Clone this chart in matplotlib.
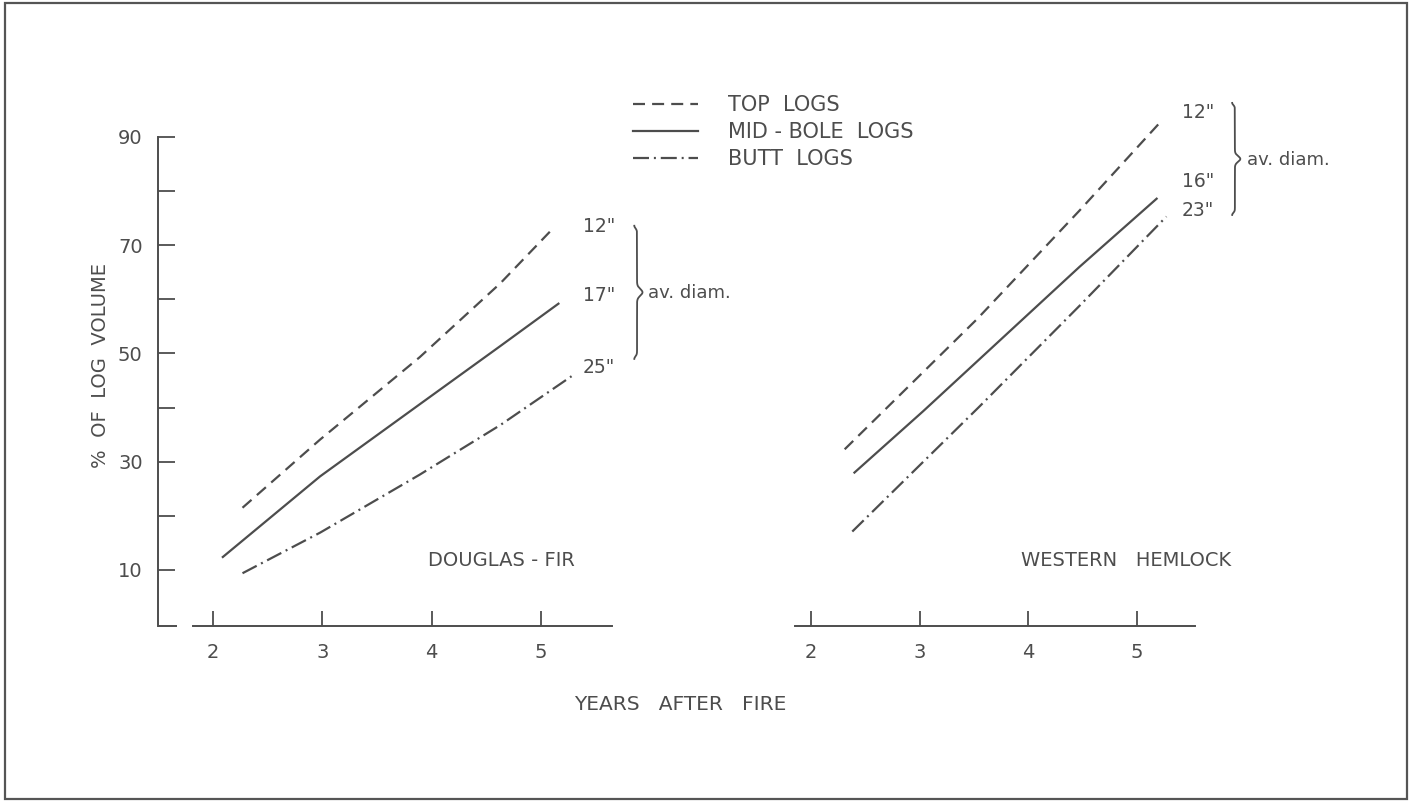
import numpy as np
import matplotlib
matplotlib.use("Agg")
import matplotlib.pyplot as plt
from matplotlib.lines import Line2D
from matplotlib.patches import Rectangle

# values (years after fire, % of log volume)
df_top_x = [2.27, 2.98, 3.89, 4.63, 5.11]
df_top_y = [21.5, 34.1, 49.3, 63.0, 73.1]
df_mid_x = [2.09, 2.98, 3.89, 4.63, 5.16]
df_mid_y = [12.4, 27.3, 40.6, 51.4, 59.2]
df_butt_x = [2.27, 2.98, 3.89, 4.63, 5.28]
df_butt_y = [9.4, 16.9, 27.6, 36.8, 45.8]

wh_top_x = [2.31, 3.53, 4.47, 5.23]
wh_top_y = [32.3, 56.4, 76.4, 93.1]
wh_mid_x = [2.40, 3.03, 4.47, 5.18]
wh_mid_y = [28.0, 39.3, 66.0, 78.6]
wh_butt_x = [2.38, 3.55, 4.47, 5.27]
wh_butt_y = [17.1, 40.2, 58.8, 75.3]

df_diams = ['12"', '17"', '25"']
df_diam_y = [73.4, 60.8, 47.5]
wh_diams = ['12"', '16"', '23"']
wh_diam_y = [94.5, 81.7, 76.5]

x_ticks = [2, 3, 4, 5]
y_major = [10, 30, 50, 70, 90]
y_minor = [20, 40, 60, 80]

INK = "#4d4d4d"
LW = 1.6
TOP_STYLE = (0, (5.4, 3.2))
MID_STYLE = "-"
BUTT_STYLE = (0, (7.2, 2.2, 0.9, 2.2))

plt.rcParams['font.family'] = ['DejaVu Sans']

W, H = 1413, 801
fig = plt.figure(figsize=(W / 100, H / 100), dpi=100)
fig.patch.set_facecolor("white")


def px_axes(x0, x1, y0, y1):
    # pixel box (top-left origin) -> figure fraction axes
    return fig.add_axes([x0 / W, 1 - y1 / H, (x1 - x0) / W, (y1 - y0) / H])


def brace(ax, x, y_lo, y_hi, w):
    t = np.linspace(0, 1, 400)
    y = y_lo + (y_hi - y_lo) * t
    d = np.abs(t - 0.5) * 2
    xs = x + w * np.exp(-(d / 0.07) ** 2) - 0.5 * w * np.exp(-((1 - d) / 0.05) ** 2)
    ax.plot(xs, y, color=INK, lw=1.3, clip_on=False)


ylim = (-0.35, 90)

# Douglas-fir panel
ax1 = px_axes(158, 612, 137, 626)
ax1.set_xlim(1.497, 5.65)
ax1.set_ylim(*ylim)
ax1.plot(df_top_x, df_top_y, color=INK, lw=LW, linestyle=TOP_STYLE, clip_on=False)
ax1.plot(df_mid_x, df_mid_y, color=INK, lw=LW, linestyle=MID_STYLE, clip_on=False)
ax1.plot(df_butt_x, df_butt_y, color=INK, lw=LW, linestyle=BUTT_STYLE, clip_on=False)
for lab, yv in zip(df_diams, df_diam_y):
    ax1.text(5.385, yv, lab, color=INK, fontsize=13.5, ha="left", va="center")
brace(ax1, 5.879, 49.0, 73.6, 0.05)
ax1.text(5.98, 61.2, "av. diam.", color=INK, fontsize=13, ha="left", va="center")
ax1.text(3.97, 11.8, "DOUGLAS - FIR", color=INK, fontsize=14, ha="left", va="center")

# Western hemlock panel
ax2 = px_axes(795, 1195, 137, 626)
ax2.set_xlim(1.853, 5.533)
ax2.set_ylim(*ylim)
ax2.plot(wh_top_x, wh_top_y, color=INK, lw=LW, linestyle=TOP_STYLE, clip_on=False)
ax2.plot(wh_mid_x, wh_mid_y, color=INK, lw=LW, linestyle=MID_STYLE, clip_on=False)
ax2.plot(wh_butt_x, wh_butt_y, color=INK, lw=LW, linestyle=BUTT_STYLE, clip_on=False)
for lab, yv in zip(wh_diams, wh_diam_y):
    ax2.text(5.413, yv, lab, color=INK, fontsize=13.5, ha="left", va="center")
brace(ax2, 5.90, 75.6, 96.3, 0.05)
ax2.text(6.01, 85.8, "av. diam.", color=INK, fontsize=13, ha="left", va="center")
ax2.text(3.93, 11.8, "WESTERN   HEMLOCK", color=INK, fontsize=14, ha="left", va="center")

for ax in (ax1, ax2):
    ax.set_facecolor("none")
    for s in ("top", "right"):
        ax.spines[s].set_visible(False)
    ax.spines["bottom"].set_color(INK)
    ax.spines["bottom"].set_linewidth(1.4)
    ax.set_xticks(x_ticks)
    ax.tick_params(axis="x", direction="in", length=11, width=1.3, colors=INK,
                   labelsize=14, pad=12)

# left panel y axis
ax1.spines["left"].set_color(INK)
ax1.spines["left"].set_linewidth(1.4)
ax1.spines["bottom"].set_bounds(1.817, 5.65)
ax1.plot([1.497, 1.67], [ylim[0], ylim[0]], color=INK, lw=1.4, clip_on=False,
         solid_capstyle="butt")
ax1.set_yticks(y_major)
ax1.set_yticks(y_minor, minor=True)
ax1.tick_params(axis="y", which="both", direction="in", length=12, width=1.3,
                colors=INK, labelsize=14, pad=11)

ax2.spines["left"].set_visible(False)
ax2.set_yticks([])

# legend
handles = [
    Line2D([0], [0], color=INK, lw=LW, linestyle=TOP_STYLE, label="TOP  LOGS"),
    Line2D([0], [0], color=INK, lw=LW, linestyle=MID_STYLE, label="MID - BOLE  LOGS"),
    Line2D([0], [0], color=INK, lw=LW, linestyle=BUTT_STYLE, label="BUTT  LOGS"),
]
leg = fig.legend(handles=handles, loc="upper left", bbox_to_anchor=(625 / W, 1 - 87 / H),
                 frameon=False, fontsize=15, handlelength=3.1, handletextpad=1.45,
                 labelspacing=0.33, borderaxespad=0)
for t in leg.get_texts():
    t.set_color(INK)

fig.text(680 / W, 1 - 705 / H, "YEARS   AFTER   FIRE", color=INK, fontsize=14.5,
         ha="center", va="center")
fig.text(100 / W, 1 - 365 / H, "%  OF  LOG  VOLUME", color=INK, fontsize=14,
         ha="center", va="center", rotation=90)

# outer frame
fig.patches.append(Rectangle((5 / W, 1 - 799 / H), 1402 / W, 796 / H,
                             transform=fig.transFigure, fill=False,
                             edgecolor="#555555", lw=1.6))

fig.savefig("out.png", dpi=100)
